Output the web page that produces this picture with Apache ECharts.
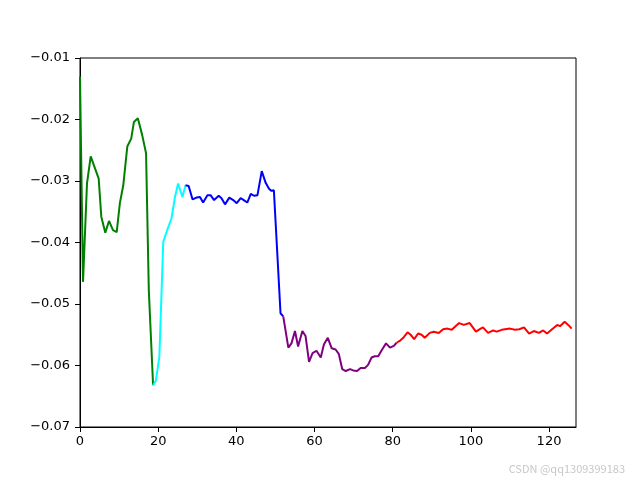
<!DOCTYPE html>
<html>
<head>
<meta charset="utf-8">
<script src="https://cdn.jsdelivr.net/npm/echarts@6/dist/echarts.min.js"></script>
<style>html,body{margin:0;padding:0;background:#fff}#c{width:640px;height:480px}</style>
</head>
<body>
<div id="c"></div>
<script>
// Segment data: [x, y]
var greenData = [[0,-0.0130],[0.77,-0.0464],[1.79,-0.0304],[2.74,-0.0260],[4.78,-0.0296],[5.45,-0.0358],[6.47,-0.0384],[7.42,-0.0365],[8.44,-0.0380],[9.39,-0.0383],[10.2,-0.0336],[11.07,-0.0307],[12.1,-0.0244],[13.1,-0.0231],[13.8,-0.0204],[14.8,-0.0198],[15.9,-0.0225],[16.9,-0.0255],[17.6,-0.0477],[18.7,-0.0632]];
var cyanData = [[18.7,-0.0632],[19.4,-0.0625],[20.3,-0.0586],[21.3,-0.0399],[22.3,-0.0380],[23.4,-0.0361],[24.3,-0.0326],[25.1,-0.0304],[26.2,-0.0326],[27.0,-0.0307]];
var blueData = [[27.0,-0.0307],[27.8,-0.0308],[28.8,-0.0330],[29.8,-0.0327],[30.7,-0.0326],[31.5,-0.0335],[32.6,-0.0323],[33.4,-0.0323],[34.3,-0.0331],[35.5,-0.0324],[36.2,-0.0328],[37.1,-0.0338],[38.2,-0.0327],[39.2,-0.0331],[40.1,-0.0336],[41.1,-0.0328],[41.9,-0.0331],[42.8,-0.0335],[43.7,-0.0321],[44.5,-0.0324],[45.4,-0.0323],[46.5,-0.0284],[47.5,-0.0303],[48.4,-0.0313],[49.0,-0.0316],[49.6,-0.0315],[50.6,-0.0432],[51.3,-0.0515],[52.0,-0.0520]];
var purpleData = [[52.0,-0.0520],[53.3,-0.0571],[54.1,-0.0564],[55.0,-0.0544],[55.8,-0.0569],[56.9,-0.0544],[57.7,-0.0552],[58.6,-0.0594],[59.5,-0.0580],[60.5,-0.0576],[61.6,-0.0587],[62.4,-0.0566],[63.4,-0.0555],[64.4,-0.0572],[65.4,-0.0574],[66.2,-0.0581],[67.1,-0.0606],[68.0,-0.0609],[69.1,-0.0606],[69.9,-0.0608],[70.9,-0.0609],[71.8,-0.0604],[72.9,-0.0604],[73.7,-0.0599],[74.6,-0.0587],[75.4,-0.0585],[76.3,-0.0585],[77.3,-0.0574],[78.3,-0.0564],[79.3,-0.0571],[80.3,-0.0568],[81.0,-0.0563]];
var redData = [[81.0,-0.0563],[81.8,-0.0560],[82.7,-0.0555],[83.8,-0.0546],[84.6,-0.0550],[85.5,-0.0557],[86.5,-0.0548],[87.4,-0.0550],[88.2,-0.0555],[89.5,-0.0547],[90.5,-0.0545],[91.8,-0.0547],[92.9,-0.0541],[94.0,-0.0540],[95.1,-0.0542],[97.0,-0.0531],[98.2,-0.0534],[99.7,-0.0531],[101.3,-0.0545],[102.3,-0.0541],[103.1,-0.0538],[104.4,-0.0547],[105.7,-0.0543],[106.6,-0.0545],[107.9,-0.0542],[110.0,-0.0540],[111.3,-0.0542],[112.4,-0.0541],[113.6,-0.0538],[114.9,-0.0548],[116.1,-0.0544],[117.4,-0.0547],[118.5,-0.0543],[119.5,-0.0548],[121.0,-0.0540],[122.1,-0.0534],[122.8,-0.0536],[124.0,-0.0529],[124.9,-0.0534],[125.8,-0.0540]];
var segColors = ['#008000','#00ffff','#0000ff','#800080','#ff0000'];
var xTicks = [0,20,40,60,80,100,120];
var yTicks = [-0.07,-0.06,-0.05,-0.04,-0.03,-0.02,-0.01];

var chart = echarts.init(document.getElementById('c'), null, {renderer:'canvas'});
var font = 'DejaVu Sans';
var segs = [greenData, cyanData, blueData, purpleData, redData];
chart.setOption({
  animation: false,
  backgroundColor: '#ffffff',
  grid: {left: 80, right: 64, top: 58, bottom: 53, show: true, borderColor: '#000', borderWidth: 1, backgroundColor: 'transparent'},
  xAxis: {
    type: 'value', min: 0, max: 126.9, interval: 20,
    axisLine: {show: true, onZero: false, lineStyle: {color: '#000', width: 1}},
    axisTick: {show: true, inside: false, length: 5, lineStyle: {color: '#000', width: 1}},
    splitLine: {show: false},
    axisLabel: {color: '#000', fontSize: 13, fontFamily: font, margin: 8, showMaxLabel: false,
      formatter: function(v){ return xTicks.indexOf(Math.round(v)) >= 0 && Math.abs(v - Math.round(v)) < 1e-6 ? String(Math.round(v)) : ''; }}
  },
  yAxis: {
    type: 'value', min: -0.07, max: -0.01, interval: 0.01,
    axisLine: {show: true, onZero: false, lineStyle: {color: '#000', width: 1}},
    axisTick: {show: true, inside: false, length: 5, lineStyle: {color: '#000', width: 1}},
    splitLine: {show: false},
    axisLabel: {color: '#000', fontSize: 13, fontFamily: font, margin: 10,
      formatter: function(v){ return (v < 0 ? '\u2212' : '') + Math.abs(v).toFixed(2); }}
  },
  series: segs.map(function(d, i){
    return {type: 'line', data: d, symbol: 'none', smooth: false, z: 2 + i,
      lineStyle: {color: segColors[i], width: 2}, itemStyle: {color: segColors[i]}};
  }),
  graphic: [{type: 'text', right: 15, top: 463, style: {text: 'CSDN @qq1309399183', fill: '#c8c8c8', font: '11px "Noto Sans CJK SC", sans-serif'}}]
});
</script>
</body>
</html>
